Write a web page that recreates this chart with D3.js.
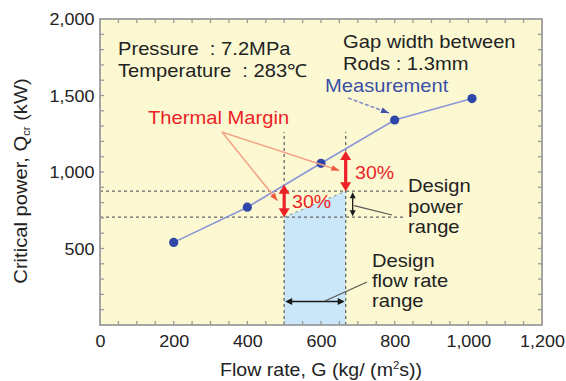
<!DOCTYPE html>
<html><head><meta charset="utf-8">
<script src="https://cdn.jsdelivr.net/npm/d3@7"></script>
<style>html,body{margin:0;padding:0;background:#fff;}svg{display:block;}text{white-space:pre;}</style>
</head><body>
<svg id="c" width="566" height="381"></svg>
<script>
// ---- data ----
const flowRate = [200, 400, 600, 800, 1010];          // kg/(m2 s)
const criticalPower = [540, 770, 1057, 1340, 1480];  // kW
const designFlowRange = [500, 667];
const designPowerRange = [705, 875];
const thermalMargin = 0.30;
const xTickValues = [0, 200, 400, 600, 800, 1000, 1200];
const yTickValues = [500, 1000, 1500, 2000];
const xDomain = [0, 1200];
const yDomain = [0, 2000];

const FONT = "'Liberation Sans', Arial, Helvetica, sans-serif";
const SX = 1.12;
const svg = d3.select("#c");
const x = d3.scaleLinear().domain(xDomain).range([100, 542]);
const y = d3.scaleLinear().domain(yDomain).range([325, 19]);

// background
svg.append("rect").attr("x", x(0)).attr("y", y(2000)).attr("width", x(1200) - x(0)).attr("height", y(0) - y(2000))
  .attr("fill", "#fcf9d2");

// design region (blue)
const reg = [[designFlowRange[0], 0], [designFlowRange[0], designPowerRange[0]], [designFlowRange[1], designPowerRange[1]], [designFlowRange[1], 0]];
svg.append("path").attr("d", d3.line().x(d => x(d[0])).y(d => y(d[1]))(reg) + "Z").attr("fill", "#c9e7f8");
svg.append("line").attr("x1", x(designFlowRange[0])).attr("y1", y(designPowerRange[0]))
  .attr("x2", x(designFlowRange[1])).attr("y2", y(designPowerRange[1]))
  .attr("stroke", "#9aa4ac").attr("stroke-width", 1.2).attr("stroke-dasharray", "3,3");

// dashed guides
const dashCol = "#666";
designFlowRange.forEach(v => {
  svg.append("line").attr("x1", x(v)).attr("x2", x(v)).attr("y1", y(0)).attr("y2", y(1261))
    .attr("stroke", dashCol).attr("stroke-width", 1.3).attr("stroke-dasharray", "3,3");
});
designPowerRange.forEach(v => {
  svg.append("line").attr("x1", x(0)).attr("x2", x(823)).attr("y1", y(v)).attr("y2", y(v))
    .attr("stroke", dashCol).attr("stroke-width", 1.3).attr("stroke-dasharray", "3,3");
});

// helpers
function head(tx, ty, dx, dy, len, wid, col) {
  const n = Math.hypot(dx, dy); dx /= n; dy /= n;
  const bx = tx - dx * len, by = ty - dy * len;
  const px = -dy * wid / 2, py = dx * wid / 2;
  svg.append("path").attr("d", `M${tx},${ty}L${bx + px},${by + py}L${bx - px},${by - py}Z`).attr("fill", col);
}
function dbl(x1, y1, x2, y2, len, wid, col, sw) {
  const dx = x2 - x1, dy = y2 - y1, n = Math.hypot(dx, dy);
  svg.append("line").attr("x1", x1 + dx / n * len * 0.8).attr("y1", y1 + dy / n * len * 0.8)
    .attr("x2", x2 - dx / n * len * 0.8).attr("y2", y2 - dy / n * len * 0.8)
    .attr("stroke", col).attr("stroke-width", sw);
  head(x1, y1, -dx, -dy, len, wid, col);
  head(x2, y2, dx, dy, len, wid, col);
}
function arrowLine(x1, y1, x2, y2, col, hcol, dash) {
  const l = svg.append("line").attr("x1", x1).attr("y1", y1).attr("x2", x2).attr("y2", y2)
    .attr("stroke", col).attr("stroke-width", 1.5);
  if (dash) l.attr("stroke-dasharray", dash);
  head(x2, y2, x2 - x1, y2 - y1, 8, 6, hcol);
}
function txt(px, py, s, size, col, anchor) {
  return svg.append("text").attr("transform", `translate(${px},${py}) scale(${SX},1)`)
    .attr("xml:space", "preserve")
    .attr("font-family", FONT).attr("font-size", size).attr("fill", col || "#222")
    .attr("text-anchor", anchor || "start").text(s);
}

// measurement line + points
const pts = flowRate.map((f, i) => [f, criticalPower[i]]);
svg.append("path").attr("d", d3.line().x(d => x(d[0])).y(d => y(d[1]))(pts))
  .attr("fill", "none").attr("stroke", "#8a96d6").attr("stroke-width", 1.6);
svg.selectAll("circle.pt").data(pts).join("circle").attr("class", "pt")
  .attr("cx", d => x(d[0])).attr("cy", d => y(d[1])).attr("r", 4.6).attr("fill", "#2f47a9");

// red thermal-margin arrows
const red = "#ec2227";
designFlowRange.forEach((f, i) => {
  const p = designPowerRange[i];
  dbl(x(f), y(p * (1 + thermalMargin)), x(f), y(p), 9, 11, red, 3.2);
});
txt(355, 179, "30%", 17.5, red);
txt(292, 208, "30%", 17.5, red);

// Thermal margin pointer lines
const tmOrigin = [331, 1261];
arrowLine(x(tmOrigin[0]), y(tmOrigin[1]), x(650), y(1010), "#f3a184", "#ee5a3c");
arrowLine(x(tmOrigin[0]), y(tmOrigin[1]), x(482), y(812), "#f3a184", "#ee5a3c");
txt(148, 124, "Thermal Margin", 18, red);

// measurement label pointer
arrowLine(348, 98, 389, 113, "#7f8cc8", "#3f52a8", "4,2");
txt(325, 92, "Measurement", 18, "#3a4fa6");

// design power range arrow
const blk = "#1a1a1a";
dbl(x(686), y(designPowerRange[1]) + 1, x(686), y(designPowerRange[0]) - 1, 6, 6, blk, 1.3);
svg.append("line").attr("x1", x(690)).attr("y1", y(780)).attr("x2", 392).attr("y2", 215)
  .attr("stroke", "#555").attr("stroke-width", 1.2);
txt(408, 192, "Design", 18, "#222");
txt(408, 213, "power", 18, "#222");
txt(408, 233, "range", 18, "#222");

// design flow rate range arrow
dbl(x(designFlowRange[0]) + 1, 301.5, x(designFlowRange[1]) - 1, 301.5, 7, 7, blk, 1.3);
svg.append("line").attr("x1", 325).attr("y1", 301).attr("x2", 367).attr("y2", 282)
  .attr("stroke", "#555").attr("stroke-width", 1.2);
txt(372, 267, "Design", 18, "#222");
txt(372, 287, "flow rate", 18, "#222");
txt(372, 307, "range", 18, "#222");

// condition texts
txt(118, 55, "Pressure  : 7.2MPa", 18, "#222");
txt(118, 77, "Temperature  : 283\u2103", 18, "#222");
txt(343, 48, "Gap width between", 18, "#222");
txt(343, 70, "Rods : 1.3mm", 18, "#222");

// frame
svg.append("rect").attr("x", x(0)).attr("y", y(2000)).attr("width", x(1200) - x(0)).attr("height", y(0) - y(2000))
  .attr("fill", "none").attr("stroke", "#9c9c9c").attr("stroke-width", 1.8);

// inner minor ticks
const tk = "#9a9a9a";
const ax = svg.append("g");
d3.range(50, 1200, 50).forEach(v => {
  ax.append("line").attr("x1", x(v)).attr("x2", x(v)).attr("y1", y(0)).attr("y2", y(0) - 4).attr("stroke", tk).attr("stroke-width", 1.3);
  ax.append("line").attr("x1", x(v)).attr("x2", x(v)).attr("y1", y(2000)).attr("y2", y(2000) + 4).attr("stroke", tk).attr("stroke-width", 1.3);
});
d3.range(100, 2000, 100).forEach(v => {
  ax.append("line").attr("y1", y(v)).attr("y2", y(v)).attr("x1", x(0)).attr("x2", x(0) + 4).attr("stroke", tk).attr("stroke-width", 1.3);
  ax.append("line").attr("y1", y(v)).attr("y2", y(v)).attr("x1", x(1200)).attr("x2", x(1200) - 4).attr("stroke", tk).attr("stroke-width", 1.3);
});

// axes (labels)
const xAxis = svg.append("g").attr("transform", `translate(0,${y(0)})`)
  .call(d3.axisBottom(x).tickValues(xTickValues).tickSize(0).tickPadding(0).tickFormat(d3.format(",")));
xAxis.select(".domain").remove();
xAxis.selectAll("text").attr("font-family", FONT).attr("font-size", 16).attr("fill", "#222")
  .attr("dy", "0").attr("y", 22).attr("transform", `scale(${SX},1)`);
const yAxis = svg.append("g").attr("transform", `translate(${x(0)},0)`)
  .call(d3.axisLeft(y).tickValues(yTickValues).tickSize(0).tickPadding(0).tickFormat(d3.format(",")));
yAxis.select(".domain").remove();
yAxis.selectAll("text").attr("font-family", FONT).attr("font-size", 16).attr("fill", "#222")
  .attr("x", -5).attr("dy", "0.36em").attr("transform", `scale(${SX},1)`);

// axis titles
svg.append("text").attr("transform", `translate(321,376) scale(${SX},1)`).attr("text-anchor", "middle")
  .attr("font-family", FONT).attr("font-size", 17.5).attr("fill", "#222")
  .call(t => {
    t.append("tspan").text("Flow rate, G (kg/ (m");
    t.append("tspan").attr("font-size", 10).attr("dy", -7).text("2");
    t.append("tspan").attr("dy", 7).text("s))");
  });
svg.append("text").attr("transform", `translate(27,181) rotate(-90) scale(${SX},1)`).attr("text-anchor", "middle")
  .attr("font-family", FONT).attr("font-size", 18).attr("fill", "#222")
  .call(t => {
    t.append("tspan").text("Critical power, Q");
    t.append("tspan").attr("font-size", 10).attr("dy", 3).text("cr");
    t.append("tspan").attr("dy", -3).text(" (kW)");
  });
</script>
</body></html>
